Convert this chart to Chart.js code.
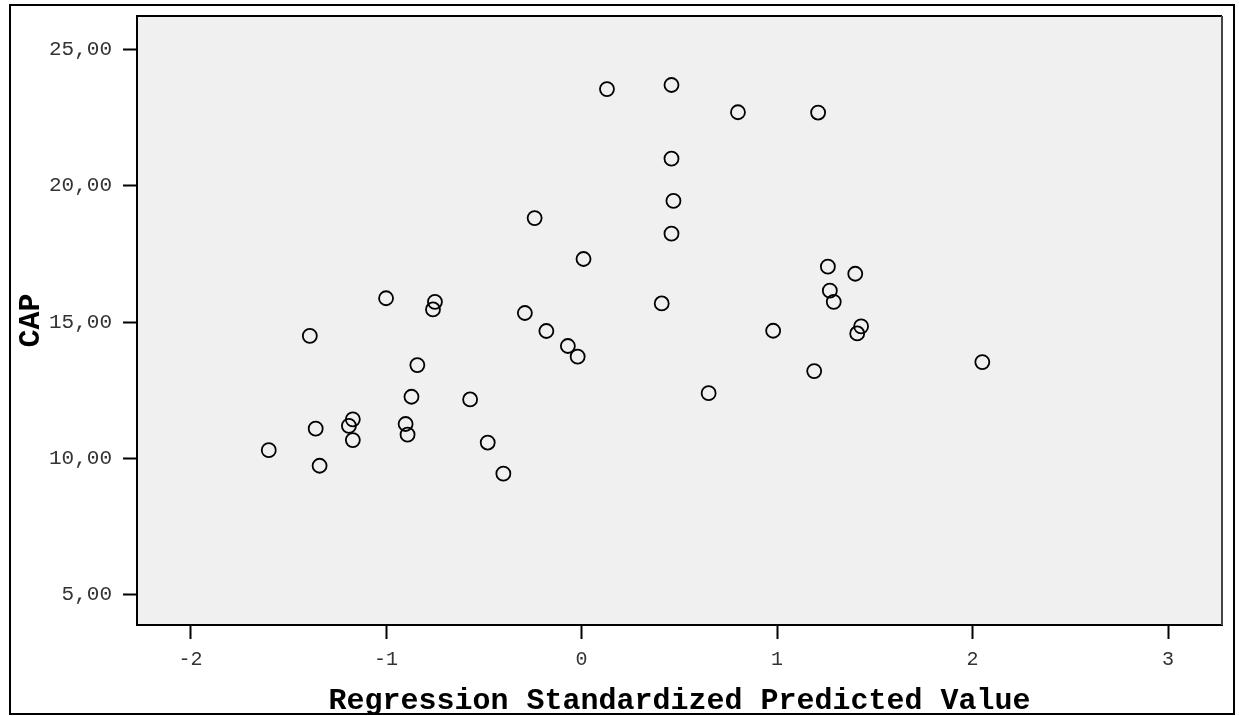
<!DOCTYPE html>
<html>
<head>
<meta charset="utf-8">
<script src="https://cdn.jsdelivr.net/npm/chart.js@4.4.1/dist/chart.umd.min.js"></script>
<style>
  html, body { margin: 0; padding: 0; background: #fff; }
  #wrap { width: 1239px; height: 716px; position: relative; }
</style>
</head>
<body>
<div id="wrap"><canvas id="chartScatter"></canvas></div>
<script>
// Regression Standardized Predicted Value (x) vs CAP (y)
const predicted = [
  0.13, 0.46, 0.80, 1.21, 0.46, 0.47, -0.24, 0.46, 0.01, 1.26,
  1.40, 1.27, -1.00, -0.75, -0.76, 1.29, 0.41, -0.29, 1.43, 0.98,
  -0.18, 1.41, -1.39, -0.07, -0.02, 2.05, -0.84, 1.19, 0.65, -0.87,
  -0.57, -1.17, -1.19, -1.36, -0.90, -0.89, -1.17, -0.48, -1.60, -1.34,
  -0.40
];
const cap = [
  23.54, 23.69, 22.69, 22.68, 20.99, 19.44, 18.81, 18.24, 17.31, 17.03,
  16.77, 16.15, 15.87, 15.74, 15.46, 15.74, 15.68, 15.33, 14.84, 14.68,
  14.67, 14.58, 14.49, 14.12, 13.73, 13.53, 13.42, 13.20, 12.39, 12.26,
  12.16, 11.43, 11.19, 11.09, 11.26, 10.87, 10.67, 10.58, 10.30, 9.73,
  9.44
];
const xTickValues = [-2, -1, 0, 1, 2, 3];
const yTickValues = [5, 10, 15, 20, 25];
const yTickLabels = ['5,00', '10,00', '15,00', '20,00', '25,00'];

const frame = {
  id: 'frame',
  beforeDraw(chart) {
    const { ctx, chartArea: a } = chart;
    ctx.save();
    ctx.fillStyle = '#ffffff';
    ctx.fillRect(0, 0, chart.width, chart.height);
    ctx.fillStyle = '#f0f0f0';
    ctx.fillRect(a.left, a.top, a.right - a.left, a.bottom - a.top);
    ctx.restore();
  },
  afterDraw(chart) {
    const { ctx, chartArea: a } = chart;
    ctx.save();
    ctx.lineWidth = 2;
    ctx.strokeStyle = '#000';
    ctx.beginPath();
    ctx.moveTo(a.left, a.top);
    ctx.lineTo(a.right, a.top);
    ctx.stroke();
    ctx.strokeStyle = '#444';
    ctx.beginPath();
    ctx.moveTo(a.right, a.top);
    ctx.lineTo(a.right, a.bottom);
    ctx.stroke();
    // outer box
    ctx.strokeStyle = '#000';
    ctx.strokeRect(10, 5, 1224, 709);
    ctx.restore();
  }
};

const tickFont = { family: "'Liberation Mono', 'Courier New', monospace", size: 21 };
const titleFont = { family: "'Liberation Mono', 'Courier New', monospace", size: 30, weight: 'bold', lineHeight: 1 };

new Chart(document.getElementById('chartScatter').getContext('2d'), {
  type: 'scatter',
  data: {
    datasets: [{
      data: predicted.map((x, i) => ({ x: x, y: cap[i] })),
      pointRadius: 7,
      pointHoverRadius: 7,
      borderWidth: 1.8,
      borderColor: '#000',
      backgroundColor: 'rgba(0,0,0,0)'
    }]
  },
  options: {
    responsive: true, maintainAspectRatio: false, animation: false,
    layout: { padding: { top: 16, right: 17, left: 0, bottom: 0 } },
    plugins: { legend: { display: false }, tooltip: { enabled: false } },
    scales: {
      x: {
        type: 'linear', min: -2.274, max: 3.276,
        afterFit: (s) => { s.height = 91; s.paddingLeft = 0; s.paddingRight = 0; },
        afterBuildTicks: (s) => { s.ticks = xTickValues.map(v => ({ value: v })); },
        ticks: { color: '#333', font: { ...tickFont, size: 20 }, padding: 9 },
        grid: { drawOnChartArea: false, drawTicks: true, tickLength: 14, tickColor: '#000', tickWidth: 2 },
        border: { color: '#000', width: 2 },
        title: { display: true, text: 'Regression Standardized Predicted Value', color: '#000', font: titleFont, padding: { top: 0, bottom: 0 } }
      },
      y: {
        type: 'linear', min: 3.89, max: 26.22,
        afterFit: (s) => { s.width = 137; s.paddingTop = 0; s.paddingBottom = 0; },
        afterBuildTicks: (s) => { s.ticks = yTickValues.map(v => ({ value: v })); },
        ticks: { color: '#333', font: tickFont, padding: 11, callback: (v, i) => yTickLabels[i] },
        grid: { drawOnChartArea: false, drawTicks: true, tickLength: 14, tickColor: '#000', tickWidth: 2 },
        border: { color: '#000', width: 2 },
        title: { display: true, text: 'CAP', color: '#000', font: titleFont, padding: { top: 16, bottom: 0 } }
      }
    }
  },
  plugins: [frame]
});
</script>
</body>
</html>
